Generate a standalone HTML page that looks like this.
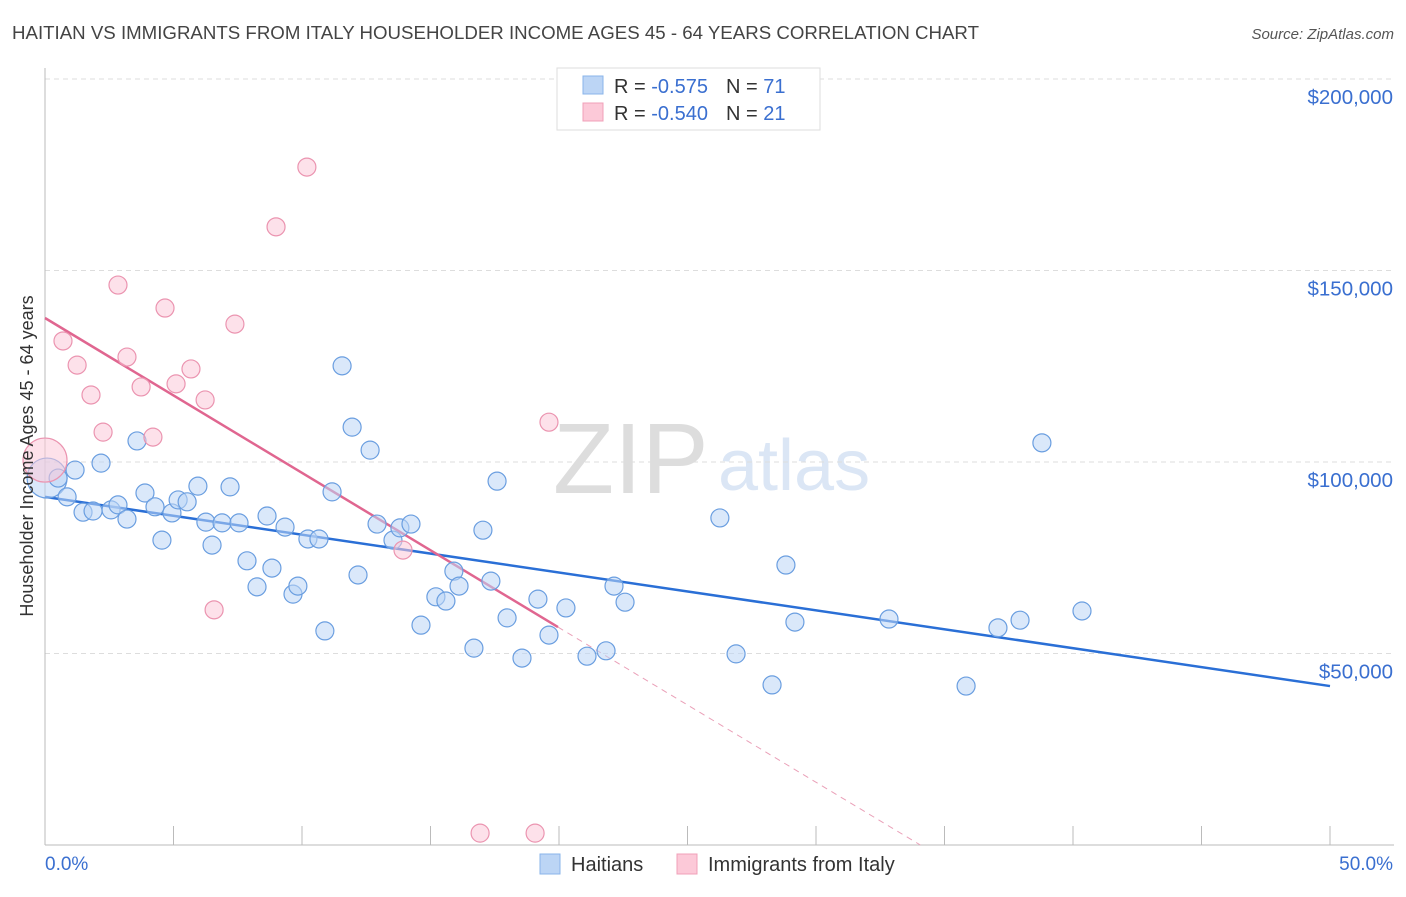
<!DOCTYPE html>
<html><head><meta charset="utf-8"><style>
body{margin:0;background:#fff;font-family:"Liberation Sans",sans-serif}
svg text{font-family:"Liberation Sans",sans-serif}
</style></head><body>
<svg id="chart" width="1406" height="892" xmlns="http://www.w3.org/2000/svg">
<text x="12" y="39" font-size="18" fill="#444" textLength="967" lengthAdjust="spacingAndGlyphs">HAITIAN VS IMMIGRANTS FROM ITALY HOUSEHOLDER INCOME AGES 45 - 64 YEARS CORRELATION CHART</text>
<text x="1394" y="39" font-size="15" fill="#555" text-anchor="end" font-style="italic">Source: ZipAtlas.com</text>
<g>
<text x="553" y="493" font-size="100" font-family="Liberation Serif" fill="#ddd">ZIP</text>
<text x="718" y="490" font-size="72" fill="#dbe6f5">atlas</text>
</g>
<g id="grid"></g>
<g id="axes"></g>
<g id="lines"></g>
<g id="pts"></g>
<text transform="translate(33,456) rotate(-90)" font-size="18" fill="#333" text-anchor="middle">Householder Income Ages 45 - 64 years</text>
<g>
<rect x="557" y="68" width="263" height="62" fill="#fff" stroke="#ddd"/>
<rect x="583" y="76" width="20" height="18" fill="#bcd5f5" stroke="#8ab4ea"/>
<rect x="583" y="103" width="20" height="18" fill="#fcc9d8" stroke="#f0a0b8"/>
<text x="614" y="93" font-size="20" fill="#333">R = <tspan fill="#3a6fd0"> -0.575</tspan><tspan dx="18">N = </tspan><tspan fill="#3a6fd0">71</tspan></text>
<text x="614" y="120" font-size="20" fill="#333">R = <tspan fill="#3a6fd0">-0.540</tspan><tspan dx="18">N = </tspan><tspan fill="#3a6fd0">21</tspan></text>
</g>
<g>
<rect x="540" y="854" width="20" height="20" fill="#bcd5f5" stroke="#8ab4ea"/>
<text x="571" y="871" font-size="20" fill="#333">Haitians</text>
<rect x="677" y="854" width="20" height="20" fill="#fcc9d8" stroke="#f0a0b8"/>
<text x="708" y="871" font-size="20" fill="#333">Immigrants from Italy</text>
</g>
</svg>
<script>
const yTicks=[50000,100000,150000,200000];
const yTickLabels=["$50,000","$100,000","$150,000","$200,000"];
const xTicks=[0,5,10,15,20,25,30,35,40,45,50];
const haitiansX=[0.08,0.51,1.17,0.86,1.48,1.87,2.18,2.57,2.84,3.19,3.58,3.89,4.28,4.55,4.94,5.18,5.53,5.95,6.26,6.50,6.89,7.20,7.55,7.86,8.25,8.64,8.83,9.34,9.65,9.84,10.23,10.66,10.89,11.17,11.56,11.95,12.18,12.65,12.92,13.54,13.81,14.24,14.63,15.21,15.60,15.91,16.11,16.69,17.04,17.35,17.59,17.98,18.56,19.18,19.61,20.27,21.09,21.83,22.14,22.57,26.26,26.89,28.29,28.83,29.18,32.84,35.84,37.08,37.94,38.79,40.35];
const haitiansY=[95.8,95.8,97.9,90.9,86.9,87.2,99.7,87.5,88.8,85.1,105.5,91.9,88.3,79.6,86.7,90.1,89.6,93.7,84.3,78.3,84.1,93.5,84.1,74.2,67.4,85.9,72.3,83.0,65.5,67.6,79.9,79.9,55.9,92.2,125.1,109.1,70.5,103.1,83.8,79.6,82.8,83.8,57.4,64.8,63.7,71.5,67.6,51.4,82.2,68.9,95.0,59.3,48.8,64.2,54.8,61.9,49.3,50.7,67.6,63.4,85.4,49.9,41.8,73.1,58.2,59.0,41.5,56.7,58.7,105.0,61.1];
const italyX=[0,0.70,1.25,1.79,2.26,2.84,3.19,3.74,4.20,4.67,5.10,5.68,6.23,6.58,7.39,8.99,10.19,13.93,16.93,19.07,19.61];
const italyY=[100.5,131.6,125.3,117.5,107.8,146.2,127.4,119.6,106.5,140.2,120.4,124.3,116.2,61.4,136.0,161.4,177.0,77.0,3.1,3.1,110.4];
const blueLine=[[0,90.9],[50,41.5]];
const pinkLine=[[0,137.6],[19.96,56.9]];
const pinkDash=[[19.96,56.9],[34.06,0]];
const NS="http://www.w3.org/2000/svg";
const X=p=>45+p*25.7, Y=v=>845-v*3.83;
function mk(t,a,parent){const e=document.createElementNS(NS,t);for(const k in a)e.setAttribute(k,a[k]);document.getElementById(parent).appendChild(e);return e;}
yTicks.forEach((v,i)=>{
 const l=mk('line',{x1:45,x2:1394,y1:Y(v/1000),y2:Y(v/1000),stroke:'#ddd','stroke-dasharray':'5,4'},'grid');
 
 
 const t=mk('text',{x:1393,y:Y(v/1000)+25,'font-size':20.5,fill:'#3a6fd0','text-anchor':'end'},'grid');
 t.textContent=yTickLabels[i];
 
 
});
const ax=mk('line',{x1:45,x2:45,y1:68,y2:845,stroke:'#bbb'},'axes');


const bx=mk('line',{x1:45,x2:1394,y1:845,y2:845,stroke:'#bbb'},'axes');


xTicks.forEach(p=>{
 const t=mk('line',{x1:X(p),x2:X(p),y1:826,y2:845,stroke:'#bbb'},'axes');
 
 
});
const x0=mk('text',{x:45,y:870,'font-size':19,fill:'#3a6fd0'},'axes');x0.textContent='0.0%';


const x1=mk('text',{x:1393,y:870,'font-size':19,fill:'#3a6fd0','text-anchor':'end'},'axes');x1.textContent='50.0%';


function pts(xs,ys,fill,stroke,name,bigR){
 xs.forEach((p,i)=>{
  const c=mk('circle',{cx:X(p),cy:Y(ys[i]),r:i===0?bigR:9,fill:fill,'fill-opacity':0.55,stroke:stroke,'stroke-width':1.2},'pts');
  
  
 });
}
pts(haitiansX,haitiansY,'#bcd5f5','#6a9ee0','haitian-point',20);
pts(italyX,italyY,'#fcc9d8','#eb94b0','italy-point',22);
function ln(d,col,name,dash){
 const l=mk('line',{x1:X(d[0][0]),y1:Y(d[0][1]),x2:X(d[1][0]),y2:Y(d[1][1]),stroke:col,'stroke-width':dash?1:2.5},'lines');
 if(dash)l.setAttribute('stroke-dasharray','6,5');
 
 
}
ln(blueLine,'#2a6fd6','haitian-trendline');
ln(pinkLine,'#e06690','italy-trendline');
ln(pinkDash,'#eaa0b8','italy-trendline-extension',true);
</script>
</body></html>
